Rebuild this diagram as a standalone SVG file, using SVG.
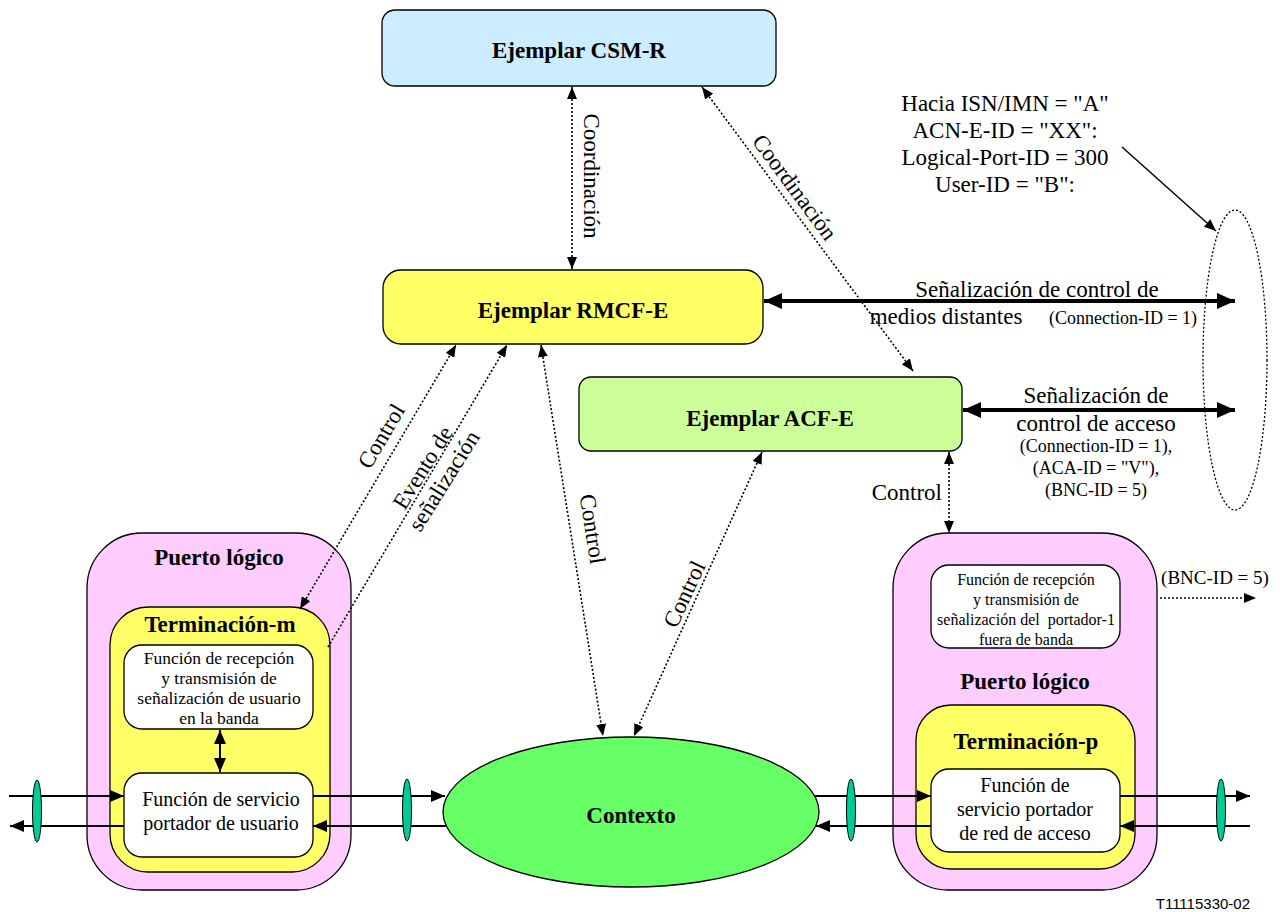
<svg xmlns="http://www.w3.org/2000/svg" width="1280" height="912" viewBox="0 0 1280 912">
<style>
text { font-family: "Liberation Serif", "Times New Roman", serif; fill: #000; text-anchor: middle; }
.t23 { font-size: 23px; }
.t20 { font-size: 20px; }
.t18 { font-size: 18px; }
.t17 { font-size: 17.5px; }
.t16 { font-size: 16px; }
.b { font-weight: bold; }
.box { stroke: #000; stroke-width: 1.3; }
.dot { fill: none; stroke: #000; stroke-width: 1.6; stroke-dasharray: 2 2; }
.solid { fill: none; stroke: #000; stroke-width: 2; }
.thick { fill: none; stroke: #000; stroke-width: 4; }
.lens { fill: #00CC99; stroke: #000; stroke-width: 1; }
</style>
<defs>
<marker id="ah" markerUnits="userSpaceOnUse" markerWidth="12" markerHeight="10" refX="12" refY="5" orient="auto-start-reverse" viewBox="0 0 12 10">
<path d="M0,0 L12,5 L0,10 Z" fill="#000"/>
</marker>
<marker id="am" markerUnits="userSpaceOnUse" markerWidth="14" markerHeight="12" refX="14" refY="6" orient="auto-start-reverse" viewBox="0 0 14 12">
<path d="M0,0 L14,6 L0,12 Z" fill="#000"/>
</marker>
<marker id="ab" markerUnits="userSpaceOnUse" markerWidth="18" markerHeight="16" refX="18" refY="8" orient="auto-start-reverse" viewBox="0 0 18 16">
<path d="M0,0 L18,8 L0,16 Z" fill="#000"/>
</marker>
</defs>

<g id="csmr">
<rect class="box" x="382" y="10" width="394" height="76" rx="13" fill="#CCECFF"/>
<text class="t23 b" x="579" y="58">Ejemplar CSM-R</text>
</g>

<g id="rmcfe">
<rect class="box" x="383" y="270" width="380" height="74" rx="18" fill="#FFFF66"/>
<text class="t23 b" x="573" y="318">Ejemplar RMCF-E</text>
</g>

<g id="acfe">
<rect class="box" x="579" y="377" width="383" height="74" rx="12" fill="#CCFF99"/>
<text class="t23 b" x="770" y="426">Ejemplar ACF-E</text>
</g>

<g id="puerto-m">
<rect class="box" x="87" y="533" width="264" height="357" rx="55" fill="#FFCCFF"/>
<text class="t23 b" x="219" y="565">Puerto lógico</text>
</g>
<g id="terminacion-m">
<rect class="box" x="110" y="607" width="220" height="265" rx="38" fill="#FFFF66"/>
<text class="t23 b" x="220" y="632">Terminación-m</text>
</g>
<g id="senal-usuario">
<rect class="box" x="124" y="645" width="189" height="84" rx="18" fill="#FFFFFF"/>
<text class="t17" x="219" y="664">Función de recepción</text>
<text class="t17" x="219" y="684">y transmisión de</text>
<text class="t17" x="219" y="704">señalización de usuario</text>
<text class="t17" x="219" y="724">en la banda</text>
</g>
<g id="portador-usuario">
<rect class="box" x="124" y="773" width="189" height="84" rx="18" fill="#FFFFFF"/>
<text class="t20" x="221" y="806">Función de servicio</text>
<text class="t20" x="221" y="830">portador de usuario</text>
</g>

<g id="contexto">
<ellipse class="box" cx="631" cy="812" rx="188" ry="75" fill="#66FF66"/>
<text class="t23 b" x="631" y="823">Contexto</text>
</g>

<g id="puerto-p">
<rect class="box" x="893" y="533" width="264" height="357" rx="55" fill="#FFCCFF"/>
<text class="t23 b" x="1025" y="689">Puerto lógico</text>
</g>
<g id="senal-portador">
<rect class="box" x="931" y="565" width="189" height="83" rx="18" fill="#FFFFFF"/>
<text class="t16" x="1026" y="585">Función de recepción</text>
<text class="t16" x="1026" y="605">y transmisión de</text>
<text class="t16" x="1026" y="625">señalización del &#160;portador-1</text>
<text class="t16" x="1026" y="645">fuera de banda</text>
</g>
<g id="terminacion-p">
<rect class="box" x="916" y="705" width="219" height="164" rx="35" fill="#FFFF66"/>
<text class="t23 b" x="1026" y="749">Terminación-p</text>
</g>
<g id="portador-red">
<rect class="box" x="931" y="769" width="189" height="83" rx="18" fill="#FFFFFF"/>
<text class="t20" x="1025" y="792">Función de</text>
<text class="t20" x="1025" y="816">servicio portador</text>
<text class="t20" x="1025" y="840">de red de acceso</text>
</g>

<g id="remote">
<ellipse cx="1235" cy="360" rx="32" ry="150" fill="none" stroke="#000" stroke-width="1.3" stroke-dasharray="2 2"/>
<text class="t23" x="1005" y="111">Hacia ISN/IMN = "A"</text>
<text class="t23" x="1005" y="138">ACN-E-ID = "XX":</text>
<text class="t23" x="1005" y="165">Logical-Port-ID = 300</text>
<text class="t23" x="1005" y="192">User-ID = "B":</text>
</g>

<g id="connectors">
<!-- coordination -->
<line class="dot" x1="572" y1="87" x2="572" y2="269" marker-start="url(#ah)" marker-end="url(#ah)"/>
<text class="t23" transform="translate(592,176) rotate(90)" x="0" y="8">Coordinación</text>
<line class="dot" x1="702" y1="87" x2="913" y2="371" marker-start="url(#ah)" marker-end="url(#ah)"/>
<text class="t23" transform="translate(795,187) rotate(53.5)" x="0" y="8">Coordinación</text>

<!-- control lines from RMCF-E -->
<line class="dot" x1="300" y1="609" x2="456" y2="345" marker-start="url(#ah)" marker-end="url(#ah)"/>
<text class="t23" transform="translate(381,436) rotate(-59.5)" x="0" y="8">Control</text>
<line class="dot" x1="328" y1="647" x2="507" y2="345" marker-end="url(#ah)"/>
<g transform="translate(433,474) rotate(-58)">
<text class="t23" x="0" y="-4.5">Evento de</text>
<text class="t23" x="0" y="20.5">señalización</text>
</g>
<line class="dot" x1="541" y1="345" x2="603" y2="736" marker-start="url(#ah)" marker-end="url(#ah)"/>
<text class="t23" transform="translate(593,529) rotate(81)" x="0" y="8">Control</text>

<!-- control from ACF-E -->
<line class="dot" x1="762" y1="452" x2="634" y2="736" marker-start="url(#ah)" marker-end="url(#ah)"/>
<text class="t23" transform="translate(684,594) rotate(-65)" x="0" y="8">Control</text>
<line class="dot" x1="949" y1="452" x2="949" y2="533" marker-start="url(#ah)" marker-end="url(#ah)"/>
<text class="t23" x="942" y="500" style="text-anchor:end">Control</text>

<!-- signalling arrows -->
<line class="thick" x1="764" y1="301" x2="1235" y2="301" marker-start="url(#ab)" marker-end="url(#ab)"/>
<text class="t23" x="1037" y="297">Señalización de control de</text>
<text class="t23" x="946" y="324">medios distantes</text>
<text class="t18" x="1123" y="324">(Connection-ID = 1)</text>

<line class="thick" x1="963" y1="410" x2="1235" y2="410" marker-start="url(#ab)" marker-end="url(#ab)"/>
<text class="t23" x="1096" y="403">Señalización de</text>
<text class="t23" x="1096" y="431">control de acceso</text>
<text class="t18" x="1096" y="452">(Connection-ID = 1),</text>
<text class="t18" x="1096" y="474">(ACA-ID = "V"),</text>
<text class="t18" x="1096" y="496">(BNC-ID = 5)</text>

<line x1="1122" y1="147" x2="1216" y2="231" stroke="#000" stroke-width="1.5" marker-end="url(#ah)"/>

<!-- BNC out-of-band -->
<text x="1215" y="584" style="font-size:19px">(BNC-ID = 5)</text>
<line class="dot" x1="1160" y1="598" x2="1256" y2="598" marker-end="url(#ah)"/>

<!-- in-band signalling double arrow -->
<line class="solid" x1="220" y1="730" x2="220" y2="772" marker-start="url(#am)" marker-end="url(#am)"/>

<!-- bearer lines -->
<line class="solid" x1="9" y1="796" x2="124" y2="796" marker-end="url(#am)"/>
<line class="solid" x1="124" y1="826" x2="10" y2="826" marker-end="url(#am)"/>
<line class="solid" x1="313" y1="796" x2="445" y2="796" marker-end="url(#am)"/>
<line class="solid" x1="447" y1="826" x2="313" y2="826" marker-end="url(#am)"/>
<line class="solid" x1="815" y1="796" x2="931" y2="796" marker-end="url(#am)"/>
<line class="solid" x1="931" y1="826" x2="816" y2="826" marker-end="url(#am)"/>
<line class="solid" x1="1120" y1="796" x2="1250" y2="796" marker-end="url(#am)"/>
<line class="solid" x1="1250" y1="826" x2="1120" y2="826" marker-end="url(#am)"/>
<ellipse class="lens" cx="37" cy="811" rx="4.5" ry="31"/>
<ellipse class="lens" cx="407" cy="810" rx="4.5" ry="31"/>
<ellipse class="lens" cx="851" cy="810" rx="4.5" ry="31"/>
<ellipse class="lens" cx="1221" cy="810" rx="4.5" ry="31"/>
</g>

<text x="1250" y="909" style="font-family:'Liberation Sans', Arial, sans-serif; font-size:15px; text-anchor:end">T11115330-02</text>
</svg>
